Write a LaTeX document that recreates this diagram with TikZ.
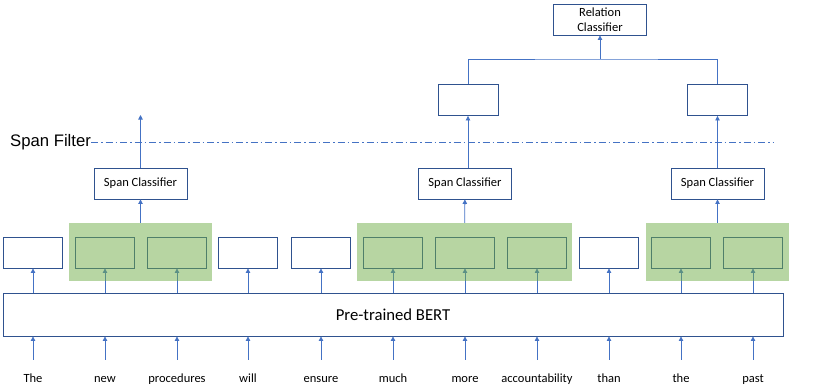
\documentclass[tikz,border=0pt]{standalone}
\usepackage{fontspec}
\setmainfont{Carlito}
\newfontfamily\filterfont{Liberation Sans}
\usetikzlibrary{positioning, arrows.meta}
\definecolor{lineblue}{HTML}{4472C4}
\definecolor{boxblue}{HTML}{2F528F}
\definecolor{spangreen}{HTML}{70AD47}

\begin{document}
\begin{tikzpicture}[x=1pt, y=-1pt, font=\fontsize{12.5}{15}\selectfont, tok/.style={draw=boxblue, line width=0.9pt, fill=white, minimum width=59pt, minimum height=31pt, inner sep=0pt}, cls/.style={draw=boxblue, line width=0.9pt, fill=white, minimum width=93pt, minimum height=31pt, inner sep=0pt, align=center}, word/.style={anchor=base, text height=8pt, text depth=2pt, inner xsep=0pt, inner ysep=14pt}, span/.style={fill=spangreen, fill opacity=0.5, draw=none, minimum height=58pt, inner sep=0pt}, arrow/.style={-{Triangle[length=4.5pt, width=4.5pt]}, draw=lineblue, line width=0.8pt}]
\useasboundingbox (0,0) rectangle (830,391);
% encoder
\node[draw=boxblue, line width=0.9pt, minimum width=780pt, minimum height=43pt, font=\fontsize{16.7}{20}\selectfont] (bert) at (393,314.5) {Pre-trained BERT};
% words and token boxes
\node[word] (w1) at (33,382) {The};\node[tok] (h1) at (33,252.5) {};
\node[word] (w2) at (105,382) {new};\node[tok] (h2) at (105,252.5) {};
\node[word] (w3) at (177,382) {procedures};\node[tok] (h3) at (177,252.5) {};
\node[word] (w4) at (248,382) {will};\node[tok] (h4) at (248,252.5) {};
\node[word] (w5) at (321,382) {ensure};\node[tok] (h5) at (321,252.5) {};
\node[word] (w6) at (393,382) {much};\node[tok] (h6) at (393,252.5) {};
\node[word] (w7) at (465,382) {more};\node[tok] (h7) at (465,252.5) {};
\node[word] (w8) at (537,382) {accountability};\node[tok] (h8) at (537,252.5) {};
\node[word] (w9) at (609,382) {than};\node[tok] (h9) at (609,252.5) {};
\node[word] (w10) at (681,382) {the};\node[tok] (h10) at (681,252.5) {};
\node[word] (w11) at (753,382) {past};\node[tok] (h11) at (753,252.5) {};
\draw[arrow] (w1) -- (w1 |- bert.south);\draw[arrow] (w2) -- (w2 |- bert.south);\draw[arrow] (w3) -- (w3 |- bert.south);\draw[arrow] (w4) -- (w4 |- bert.south);
\draw[arrow] (w5) -- (w5 |- bert.south);\draw[arrow] (w6) -- (w6 |- bert.south);\draw[arrow] (w7) -- (w7 |- bert.south);\draw[arrow] (w8) -- (w8 |- bert.south);
\draw[arrow] (w9) -- (w9 |- bert.south);\draw[arrow] (w10) -- (w10 |- bert.south);\draw[arrow] (w11) -- (w11 |- bert.south);
\draw[arrow] (h1 |- bert.north) -- (h1);\draw[arrow] (h2 |- bert.north) -- (h2);\draw[arrow] (h3 |- bert.north) -- (h3);\draw[arrow] (h4 |- bert.north) -- (h4);
\draw[arrow] (h5 |- bert.north) -- (h5);\draw[arrow] (h6 |- bert.north) -- (h6);\draw[arrow] (h7 |- bert.north) -- (h7);\draw[arrow] (h8 |- bert.north) -- (h8);
\draw[arrow] (h9 |- bert.north) -- (h9);\draw[arrow] (h10 |- bert.north) -- (h10);\draw[arrow] (h11 |- bert.north) -- (h11);
% spans
\node[span, minimum width=143pt] (s1) at (140.5,252) {};
\node[span, minimum width=215pt] (s2) at (464.5,252) {};
\node[span, minimum width=143pt] (s3) at (717.5,252) {};
\node[cls] (c1) at (140.5,183.5) {Span Classifier};
\node[cls] (c2) at (465,183.5) {Span Classifier};
\node[cls] (c3) at (717.5,183.5) {Span Classifier};
\draw[arrow] (s1) -- (c1);\draw[arrow] (s2) -- (c2);\draw[arrow] (s3) -- (c3);
% filter
\node[font=\filterfont\fontsize{16.7}{20}\selectfont, anchor=west, inner sep=0pt] (filter) at (10,142) {Span Filter};
\coordinate (fend) at (773,142);
\draw[lineblue, line width=1pt, dash pattern=on 7pt off 3pt on 1.5pt off 3pt] (filter.east) -- (fend);
\coordinate (drop) at (140.5,115);
\draw[arrow] (c1) -- (drop);
% relation
\node[tok, minimum width=60pt] (u2) at (468,100) {};
\node[tok, minimum width=60pt] (u3) at (717.5,100) {};
\draw[arrow] (c2.north -| u2) -- (u2);\draw[arrow] (c3) -- (u3);
\node[cls, font=\fontsize{12.5}{15}\selectfont] (rel) at (600,19.5) {Relation\\Classifier};
\coordinate (join) at (600,59);
\draw[lineblue, line width=0.8pt] (u2) |- (join) -| (u3);
\draw[arrow] (join) -- (rel);
\end{tikzpicture}
\end{document}
